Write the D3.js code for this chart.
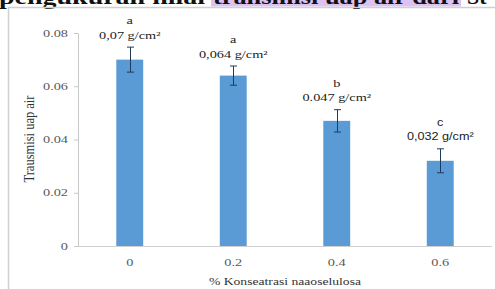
<!DOCTYPE html>
<html>
<head>
<meta charset="utf-8">
<script src="https://cdn.jsdelivr.net/npm/d3@7/dist/d3.min.js"></script>
<style>
  html, body { margin: 0; padding: 0; background: #fff; }
  svg { display: block; }
</style>
</head>
<body>
<div id="chart"></div>
<script>
// data
const categories = ['0', '0.2', '0.4', '0.6'];
const values = [0.07, 0.064, 0.047, 0.032];
const errors = [0.0047, 0.0036, 0.0042, 0.0045];
const letters = ['a', 'a', 'b', 'c'];
const valueLabels = ['0,07 g/cm²', '0,064 g/cm²', '0.047 g/cm²', '0,032 g/cm²'];
const yTicks = [0, 0.02, 0.04, 0.06, 0.08];

const W = 495, H = 289;
const SERIF = '"Liberation Serif", "DejaVu Serif", serif';
const SANS = '"Liberation Sans", Arial, sans-serif';
const SX = 1.3; // the picture is stretched sideways

const svg = d3.select('#chart').append('svg')
  .attr('width', W)
  .attr('height', H)
  .attr('viewBox', `0 0 ${W} ${H}`);

// cut-off caption line above the chart
const cap = svg.append('g')
  .attr('font-family', SERIF)
  .attr('font-weight', 'bold')
  .attr('font-size', 22)
  .attr('fill', '#111');
cap.append('rect')
  .attr('x', 211).attr('y', 0)
  .attr('width', 250).attr('height', 6.5)
  .attr('fill', '#dcc2f3');
cap.append('text').attr('x', -1).attr('y', 4)
  .attr('textLength', 206).attr('lengthAdjust', 'spacingAndGlyphs')
  .text('pengukuran nilai');
cap.append('text').attr('x', 213).attr('y', 4)
  .attr('textLength', 246).attr('lengthAdjust', 'spacingAndGlyphs')
  .text('transmisi uap air dari');
cap.append('text').attr('x', 467).attr('y', 4)
  .text('St');

// chart frame
svg.append('path')
  .attr('d', `M8.5,${H} V7.5 H${W}`)
  .attr('fill', 'none')
  .attr('stroke', '#d0d0d0')
  .attr('stroke-width', 1.5);

// scales
const x = d3.scaleBand()
  .domain(categories)
  .range([78, 492])
  .paddingInner(0.74)
  .paddingOuter(0.37);

const y = d3.scaleLinear()
  .domain([0, 0.08])
  .range([246, 33]);

// stretched text helper
function label(g, px, py, str, opts = {}) {
  return g.append('text')
    .attr('transform', `translate(${px},${py}) scale(${opts.sx || SX},1)`)
    .attr('text-anchor', opts.anchor || 'middle')
    .attr('font-family', opts.family || SERIF)
    .attr('font-size', opts.size || 11)
    .attr('fill', opts.fill || '#222')
    .text(str);
}

// y axis
const yAxis = svg.append('g')
  .attr('transform', 'translate(78,0)')
  .call(d3.axisLeft(y).tickValues(yTicks).tickSize(4).tickSizeOuter(0).tickFormat(''));
yAxis.select('.domain').attr('stroke', '#c8c8c8');
yAxis.selectAll('.tick line').attr('stroke', '#c8c8c8');

yTicks.forEach(t => {
  label(svg, 68, y(t) + 3.5, t === 0 ? '0' : t.toFixed(2), { anchor: 'end', fill: '#595959' });
});

// x axis line
svg.append('line')
  .attr('x1', 78).attr('x2', 492)
  .attr('y1', y(0) + 0.5).attr('y2', y(0) + 0.5)
  .attr('stroke', '#d0d0d0');

categories.forEach(c => {
  label(svg, x(c) + x.bandwidth() / 2, 266, c, { fill: '#595959' });
});

// bars
svg.append('g').selectAll('rect')
  .data(values)
  .join('rect')
  .attr('x', (d, i) => x(categories[i]))
  .attr('y', d => y(d))
  .attr('width', x.bandwidth())
  .attr('height', d => y(0) - y(d))
  .attr('fill', '#5b9bd5');

// error bars
const eb = svg.append('g')
  .attr('stroke', '#1f3a60')
  .attr('stroke-width', 1);
values.forEach((v, i) => {
  const cx = Math.round(x(categories[i]) + x.bandwidth() / 2) + 0.5;
  const top = y(v + errors[i]), bot = y(v - errors[i]);
  eb.append('line').attr('x1', cx).attr('x2', cx).attr('y1', top).attr('y2', bot);
  eb.append('line').attr('x1', cx - 3.5).attr('x2', cx + 3.5).attr('y1', top).attr('y2', top);
  eb.append('line').attr('x1', cx - 3.5).attr('x2', cx + 3.5).attr('y1', bot).attr('y2', bot);
});

// value and letter labels above the bars
values.forEach((v, i) => {
  const cx = x(categories[i]) + x.bandwidth() / 2;
  const top = y(v + errors[i]);
  const fam = i === 3 ? SANS : SERIF;
  label(svg, cx, top - 8.5, valueLabels[i], { family: fam, sx: i === 3 ? 1.15 : SX });
  label(svg, cx, top - 23, letters[i], { family: fam, sx: i === 3 ? 1.15 : SX });
});

// axis titles
label(svg, 285, 285, '% Konseatrasi naaoselulosa', { fill: '#333', sx: 1.24 });

svg.append('text')
  .attr('transform', 'translate(34,139) rotate(-90) scale(1,1.2)')
  .attr('text-anchor', 'middle')
  .attr('font-family', SERIF)
  .attr('font-size', 12.5)
  .attr('fill', '#333')
  .text('Trausmisi uap air');
</script>
</body>
</html>
